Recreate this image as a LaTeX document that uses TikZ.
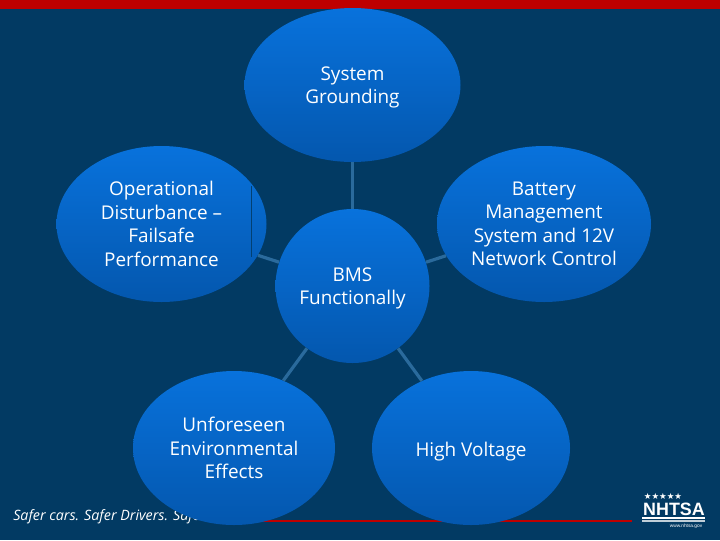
\documentclass[tikz,border=0pt]{standalone}
\usepackage{fontspec}
\setmainfont{Open Sans}
\newfontfamily\logofont{Liberation Sans}
\newfontfamily\symfont{DejaVu Sans}
\usetikzlibrary{shapes.geometric}
\definecolor{bgnavy}{HTML}{023A63}
\definecolor{topred}{HTML}{BE0000}
\definecolor{ballhi}{HTML}{0872DC}
\definecolor{balllo}{HTML}{0457AE}
\definecolor{linkblue}{HTML}{2A6A9C}
\newcommand{\downtwo}{\rule{0pt}{14pt}}
\newcommand{\downthree}{\rule{0pt}{15.5pt}}
\tikzset{
  ball/.style={ellipse,inner sep=0pt,top color=ballhi,bottom color=balllo,text=white,align=center,
    font=\fontsize{14.2pt}{17.6pt}\selectfont},
  link/.style={draw=linkblue,line width=2.4pt},
}
\begin{document}
\begin{tikzpicture}[x=0.75pt,y=-0.75pt]
\useasboundingbox (0,0) rectangle (720,540);
\fill[bgnavy] (0,0) rectangle (720,540);
\fill[topred] (0,0) rectangle (720,8.5);
\coordinate (redA) at (250,521);
\coordinate (redB) at (632,521);
\draw[topred,line width=0.8pt] (redA) -- (redB);
\node[anchor=west,inner sep=0pt,text=white,font=\fontsize{10.7pt}{12pt}\selectfont\itshape] (foot) at (13,516.5) {Safer cars. Safer Drivers. Safer Roads};
% logo
\node[text=white,anchor=center,inner sep=0pt,font=\symfont\fontsize{6.4pt}{7pt}\selectfont] (stars) at (663,496) {★★★★★};
\node[text=white,anchor=center,inner sep=0pt,font=\logofont\bfseries\fontsize{13.4pt}{14pt}\selectfont] (nhtsa) at (674,509) {NHTSA};
\fill[white] (642,517) rectangle (705,519);
\fill[white!75!bgnavy] (642,520) rectangle (705,521.5);
\node[text=white,inner sep=0pt,font=\logofont\fontsize{3.6pt}{4pt}\selectfont] (web) at (686,526) {www.nhtsa.gov};
% balls
\node[ball,minimum width=154pt*0.75,minimum height=154pt*0.75] (bms) at (352.5,286) {\downtwo BMS\\Functionally};
\node[ball,minimum width=216pt*0.75,minimum height=154pt*0.75] (sys) at (352.5,85) {\downtwo System\\Grounding};
\node[ball,minimum width=210pt*0.75,minimum height=156pt*0.75] (ops) at (161.5,224) {Operational\\Disturbance –\\Failsafe\\Performance};
\node[ball,minimum width=214pt*0.75,minimum height=156pt*0.75] (bat) at (544,224) {Battery\\Management\\System and 12V\\Network Control};
\node[ball,minimum width=202pt*0.75,minimum height=154pt*0.75] (env) at (234,448) {Unforeseen\\Environmental\\Effects};
\node[ball,minimum width=198pt*0.75,minimum height=154pt*0.75] (hv) at (471,448) {\downthree High Voltage};
\draw[link] (bms) -- (sys);
\draw[link] (bms) -- (ops);
\draw[link] (bms) -- (bat);
\draw[link] (bms) -- (env);
\draw[link] (bms) -- (hv);
\coordinate (markA) at (251.5,186);
\coordinate (markB) at (251.5,257);
\draw[bgnavy!80!balllo,line width=0.7pt] (markA) -- (markB);
\end{tikzpicture}
\end{document}
